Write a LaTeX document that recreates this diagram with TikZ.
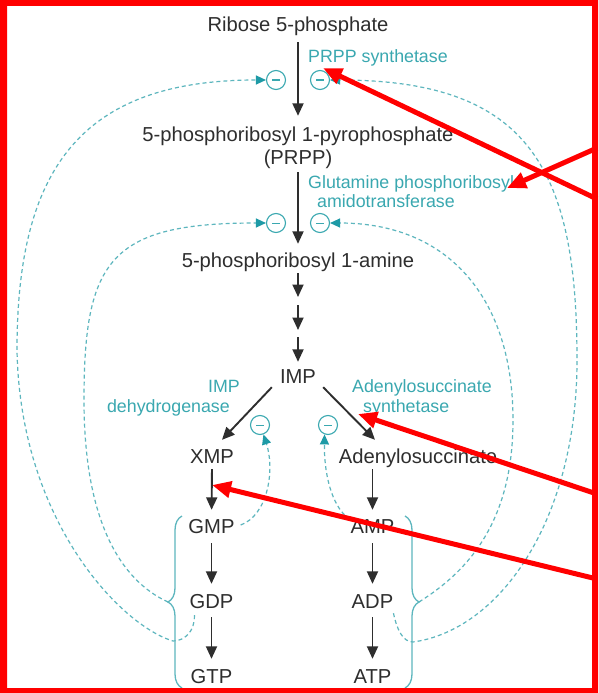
\documentclass[tikz,border=0pt]{standalone}
\usepackage{fontspec}
\setmainfont{Liberation Sans}
\usetikzlibrary{arrows.meta,decorations.pathreplacing}
\definecolor{ink}{HTML}{2E2E2E}
\definecolor{tealtxt}{HTML}{3AA8B0}
\definecolor{teald}{HTML}{5DB6BE}
\definecolor{tealhead}{HTML}{1E9AA6}
\definecolor{annot}{HTML}{FF0000}
\begin{document}
\begin{tikzpicture}[x=1pt,y=-1pt,
  mol/.style={text=ink, font=\fontsize{20.2pt}{22pt}\selectfont, inner sep=0pt, text height=14pt, text depth=4pt, anchor=base},
  enz/.style={text=tealtxt, font=\fontsize{17.8pt}{19pt}\selectfont, inner sep=0pt},
  flow/.style={draw=ink, line width=1.9pt, -{Triangle[length=12.5pt,width=11pt]}},
  inh/.style={circle, draw=tealtxt, line width=1.1pt, minimum size=19pt, inner sep=0pt, text=tealtxt},
  fb/.style={draw=teald, line width=1.2pt, dash pattern=on 4pt off 3pt, -{Triangle[length=10pt,width=9pt,color=tealhead]}},
  brc/.style={draw=teald, line width=1.3pt, decorate, decoration={brace, amplitude=14pt}},
  redarr/.style={draw=annot, line width=5pt, -{Triangle[length=19pt,width=16pt]}}
]
\useasboundingbox (0,0) rectangle (598,693);
\fill[white] (0,0) rectangle (598,693);

% metabolites
\node[mol] (ribose) at (298,31.5) {Ribose 5-phosphate};
\node[mol] (prpp1) at (298,141) {5-phosphoribosyl 1-pyrophosphate};
\node[mol] (prpp2) at (298,164) {(PRPP)};
\node[mol] (amine) at (298,267) {5-phosphoribosyl 1-amine};
\node[mol] (imp) at (298,383) {IMP};
\node[mol] (xmp) at (212,463) {XMP};
\node[mol] (aden) at (418,463) {Adenylosuccinate};
\node[mol] (gmp) at (211.5,533) {GMP};
\node[mol] (gdp) at (211.5,608) {GDP};
\node[mol] (gtp) at (211.5,683) {GTP};
\node[mol] (amp) at (372.5,533) {AMP};
\node[mol] (adp) at (372.5,608) {ADP};
\node[mol] (atp) at (372.5,683) {ATP};

% enzymes
\node[enz, anchor=base west] (e1) at (308,63) {PRPP synthetase};
\node[enz, anchor=base west] (e2a) at (308,188) {Glutamine phosphoribosyl};
\node[enz, anchor=base west] (e2b) at (317,207) {amidotransferase};
\node[enz, anchor=base east] (e3a) at (240,392) {IMP};
\node[enz, anchor=base east] (e3b) at (230,412) {dehydrogenase};
\node[enz, anchor=base west] (e4a) at (352,392) {Adenylosuccinate};
\node[enz, anchor=base west] (e4b) at (363,412) {synthetase};

% inhibition circles
\node[inh] (c1) at (276,80) {\rule[-0.5pt]{8pt}{1pt}};
\node[inh] (c2) at (320,80) {\rule[-0.5pt]{8pt}{1pt}};
\node[inh] (c3) at (276,223) {\rule[-0.5pt]{8pt}{1pt}};
\node[inh] (c4) at (320,223) {\rule[-0.5pt]{8pt}{1pt}};
\node[inh] (c5) at (260,425) {\rule[-0.5pt]{8pt}{1pt}};
\node[inh] (c6) at (328,425) {\rule[-0.5pt]{8pt}{1pt}};

% pathway arrows
\coordinate (k1) at (298,301);
\coordinate (k2) at (298,333.5);
\draw[flow, shorten <=6.5pt, shorten >=11pt] (ribose.south) -- (prpp1.north);
\draw[flow, shorten <=4pt, shorten >=9pt] (prpp2.south) -- (amine.north);
\draw[flow, shorten <=2pt, shorten >=4pt] (amine.south) -- (k1);
\draw[flow, shorten <=4pt, shorten >=3.5pt] (k1) -- (k2);
\draw[flow, shorten <=3.5pt, shorten >=7pt] (k2) -- (imp.north);
\draw[flow] ([xshift=-8pt]imp.south west) -- ([xshift=10pt,yshift=9pt]xmp.north);
\draw[flow] ([xshift=7pt]imp.south east) -- ([xshift=-43pt,yshift=9pt]aden.north);
\draw[flow, shorten <=2pt, shorten >=9pt] (xmp.south) -- (gmp.north);
\draw[flow, shorten <=2pt, shorten >=9pt] ([xshift=-45.5pt]aden.south) -- (amp.north);
\draw[flow, shorten <=6pt, shorten >=10pt] (gmp.south) -- (gdp.north);
\draw[flow, shorten <=5pt, shorten >=10pt] (gdp.south) -- (gtp.north);
\draw[flow, shorten <=6pt, shorten >=10pt] (amp.south) -- (adp.north);
\draw[flow, shorten <=5pt, shorten >=10pt] (adp.south) -- (atp.north);

% braces
\draw[brc] (182,688) -- (182,516);
\draw[brc] (405,516) -- (405,688);
\coordinate (lb) at (168,602);
\coordinate (rb) at (419,602);

% feedback curves
\draw[fb] ([xshift=5pt,yshift=-3pt]gdp.south west) .. controls (195,632) and (184,641) .. (173,641)
  .. controls (120,625) and (20,520) .. (17,350)
  .. controls (17,170) and (80,80) .. (c1.west);
\draw[fb] (lb) .. controls (120,580) and (84,520) .. (84,400)
  .. controls (84,260) and (110,223) .. (c3.west);
\draw[fb] ([xshift=6pt,yshift=3pt]gmp.east) .. controls (268,515) and (275,470) .. (c5.-70);
\draw[fb] ([xshift=-6pt,yshift=4pt]amp.north west) .. controls (330,500) and (324,470) .. (c6.-110);
\draw[fb] (rb) .. controls (470,570) and (513,520) .. (513,420)
  .. controls (513,300) and (450,223) .. (c4.east);
\draw[fb] ([yshift=-1pt]adp.south east) .. controls (397,630) and (403,642) .. (413,642)
  .. controls (500,630) and (577,520) .. (577,360)
  .. controls (577,170) and (530,80) .. (c2.east);

% red annotation arrows
\coordinate (r1a) at (597,199); \coordinate (r1b) at (323,68);
\coordinate (r2a) at (597,148); \coordinate (r2b) at (507,188);
\coordinate (r3a) at (597,494); \coordinate (r3b) at (358,414);
\coordinate (r4a) at (597,579); \coordinate (r4b) at (212,485);
\draw[redarr] (r1a) -- (r1b);
\draw[redarr] (r2a) -- (r2b);
\draw[redarr] (r3a) -- (r3b);
\draw[redarr] (r4a) -- (r4b);

% red frame
\fill[annot, even odd rule] (0,0) rectangle (598,693) (7,6) rectangle (592,688);
\end{tikzpicture}
\end{document}
